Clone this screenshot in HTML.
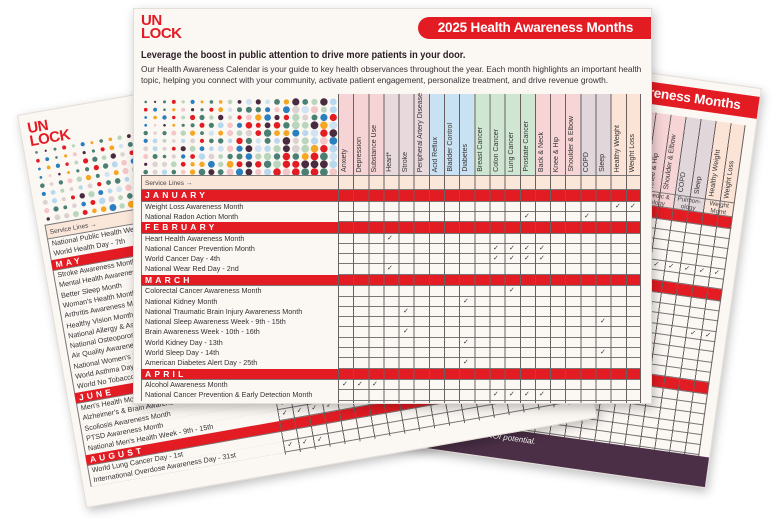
<!DOCTYPE html>
<html><head><meta charset="utf-8">
<style>
*{margin:0;padding:0;box-sizing:border-box}
body{width:776px;height:523px;background:#fff;position:relative;overflow:hidden;font-family:"Liberation Sans",sans-serif}
.pg{position:absolute;width:519px;height:396px;background:#fbf7f3;border:1px solid #e4ddd8;box-shadow:2px 4px 10px rgba(0,0,0,.25);transform-origin:0 0;overflow:hidden}
.logo{position:absolute;left:7px;top:5px;color:#e31b23;font-weight:bold;font-size:15px;line-height:13px;letter-spacing:-.5px}
.title{position:absolute;left:284px;top:8px;width:235px;height:22px;background:#e31b23;border-radius:11px 0 0 11px;color:#fff;font-weight:bold;font-size:13.5px;letter-spacing:-0.2px;line-height:22px;text-align:center;white-space:nowrap}
.h{position:absolute;left:7px;top:40px;font-weight:bold;font-size:10.5px;color:#2a1f24;white-space:nowrap;transform:scaleX(0.88);transform-origin:0 0}
.p{position:absolute;left:7px;top:55px;font-size:8.3px;line-height:11px;color:#3a3035;width:510px}
.dots{position:absolute}
.tbl{position:absolute;left:7px;width:500px}
.r{position:relative;height:10.3px;border-bottom:1px solid #777;font-size:7.2px;line-height:9.5px;color:#333;white-space:nowrap}
.r span{position:absolute;left:0;top:0;width:197px;height:10.3px;padding-left:3px;border-left:1px solid #777;background:#fbf7f3;overflow:hidden}
.r i{position:absolute;top:0;font-style:normal;font-size:7px}
.b{height:11.5px;background:#e31b23;color:#fff;font-weight:bold;font-size:8.5px;letter-spacing:3.2px;line-height:11.5px;padding-left:4px}
.sl{height:15px;background:#fbe6da;font-size:6.5px;line-height:15px;color:#444;padding-left:3px;border:1px solid #777;border-right:none}
.grid{position:absolute;background:repeating-linear-gradient(90deg,#6a6060 0 1px,transparent 1px 15.15px);border-right:1px solid #6a6060;pointer-events:none}
.col{position:absolute;top:0;width:15.15px;height:81px}
.col b{position:absolute;bottom:3px;left:3px;writing-mode:vertical-rl;transform:rotate(180deg);font-weight:normal;font-size:7px;color:#333;white-space:nowrap}
.grp{position:absolute;height:15px;font-size:6.3px;line-height:6.5px;color:#444;text-align:center;padding-top:1px;border-top:1px solid #777;border-bottom:1px solid #777}
.foot{position:absolute;left:0;top:372px;width:519px;height:40px;background:#4b2f46;color:#fff;font-size:8px;font-style:italic;padding:4px 0 0 150px;line-height:10px}
</style></head><body>

<!-- RIGHT PAGE -->
<div class="pg" style="left:248px;top:16px;height:404px;transform:rotate(8deg)">
 <div class="logo">UN<br>LOCK</div>
 <div class="title">2025 Health Awareness Months</div>
 <div style="position:absolute;left:204px;top:38px;width:303px;height:93px">
  <div class="col" style="left:0;height:78px;background:#f6d3d5"></div><div class="col" style="left:15.15px;height:78px;background:#f6d3d5"></div><div class="col" style="left:30.3px;height:78px;background:#f6d3d5"></div>
  <div class="col" style="left:45.45px;height:78px;background:#e8d9dc"></div><div class="col" style="left:60.6px;height:78px;background:#e8d9dc"></div><div class="col" style="left:75.75px;height:78px;background:#e8d9dc"></div>
  <div class="col" style="left:90.9px;height:78px;background:#c9e2f3"></div><div class="col" style="left:106px;height:78px;background:#c9e2f3"></div><div class="col" style="left:121.2px;height:78px;background:#c9e2f3"></div>
  <div class="col" style="left:136.35px;height:78px;background:#cfe6d3"></div><div class="col" style="left:151.5px;height:78px;background:#cfe6d3"></div><div class="col" style="left:166.65px;height:78px;background:#cfe6d3"></div><div class="col" style="left:181.8px;height:78px;background:#cfe6d3"></div>
  <div class="col" style="left:196.95px;height:78px;background:#f7d4d6"><b>Back &amp; Neck</b></div><div class="col" style="left:212.1px;height:78px;background:#f7d4d6"><b>Knee &amp; Hip</b></div><div class="col" style="left:227.25px;height:78px;background:#f7d4d6"><b>Shoulder &amp; Elbow</b></div>
  <div class="col" style="left:242.4px;height:78px;background:#e1d6da"><b>COPD</b></div><div class="col" style="left:257.55px;height:78px;background:#e1d6da"><b>Sleep</b></div>
  <div class="col" style="left:272.7px;height:78px;background:#fbe3d6"><b>Healthy Weight</b></div><div class="col" style="left:287.85px;height:78px;background:#fbe3d6"><b>Weight Loss</b></div>
  <div class="grp" style="left:196.95px;top:78px;width:45.45px;background:#f7d4d6">Orthopedic &amp;<br>Neurology</div>
  <div class="grp" style="left:242.4px;top:78px;width:30.3px;background:#e1d6da">Pulmon-<br>ology</div>
  <div class="grp" style="left:272.7px;top:78px;width:30.3px;background:#fbe3d6">Weight<br>Mgmt</div>
 </div>
 <div class="tbl" style="top:131px">
  <div class="r b">MAY</div>
  <div class="r"><span></span></div><div class="r"><span></span></div><div class="r"><span></span></div><div class="r"><span></span></div>
  <div class="r"><span></span><i style="left:413px">✓</i><i style="left:428px">✓</i><i style="left:443px">✓</i><i style="left:459px">✓</i><i style="left:474px">✓</i><i style="left:489px">✓</i></div>
  <div class="r"><span></span></div>
  <div class="r b">JUNE</div>
  <div class="r"><span></span></div>
  <div class="r"><span></span><i style="left:428px">✓</i></div>
  <div class="r"><span></span><i style="left:428px">✓</i></div>
  <div class="r"><span></span><i style="left:428px">✓</i><i style="left:474px">✓</i><i style="left:489px">✓</i></div>
  <div class="r"><span></span></div><div class="r"><span></span></div><div class="r"><span></span></div><div class="r"><span></span></div>
  <div class="r b">JULY</div>
  <div class="r"><span></span><i style="left:428px">✓</i></div>
  <div class="r"><span></span></div><div class="r"><span></span></div><div class="r"><span></span></div><div class="r"><span></span></div><div class="r"><span></span></div>
 </div>
 <div class="grid" style="left:204px;top:38px;width:303px;height:334px"></div>
 <div class="foot">Schedule a 15-minute demo to see your ROI potential.<br>unlockhealthnow.com/ham</div>
</div>

<!-- LEFT PAGE -->
<div class="pg" style="left:17px;top:115px;height:399px;transform:rotate(-10deg)">
 <div class="logo" style="top:8px">UN<br>LOCK</div>
 <svg class="dots" id="d2" style="left:7px;top:35px" width="197" height="76"></svg>
 <div class="tbl" style="top:112px">
  <div class="sl">Service Lines →</div>
  <div class="r"><span>National Public Health Week - 7th</span></div>
  <div class="r"><span>World Health Day - 7th</span></div>
  <div class="r b">MAY</div>
  <div class="r"><span>Stroke Awareness Month</span></div>
  <div class="r"><span>Mental Health Awareness Month</span></div>
  <div class="r"><span>Better Sleep Month</span></div>
  <div class="r"><span>Woman's Health Month</span></div>
  <div class="r"><span>Arthritis Awareness Month</span></div>
  <div class="r"><span>Healthy Vision Month</span></div>
  <div class="r"><span>National Allergy &amp; Asthma Awareness Month</span></div>
  <div class="r"><span>National Osteoporosis Awareness Month</span></div>
  <div class="r"><span>Air Quality Awareness Week</span></div>
  <div class="r"><span>National Women's Health Week</span></div>
  <div class="r"><span>World Asthma Day - 6th</span></div>
  <div class="r"><span>World No Tobacco Day - 31st</span></div>
  <div class="r b">JUNE</div>
  <div class="r"><span>Men's Health Month</span></div>
  <div class="r"><span>Alzheimer's &amp; Brain Awareness Month</span></div>
  <div class="r"><span>Scoliosis Awareness Month</span></div>
  <div class="r"><span>PTSD Awareness Month</span><i style="left:201px">✓</i><i style="left:216px">✓</i><i style="left:231px">✓</i><i style="left:246px">✓</i><i style="left:262px">✓</i><i style="left:277px">✓</i><i style="left:292px">✓</i></div>
  <div class="r"><span>National Men's Health Week - 9th - 15th</span><i style="left:201px">✓</i><i style="left:216px">✓</i><i style="left:231px">✓</i><i style="left:246px">✓</i><i style="left:383px">✓</i></div>
  <div class="r b">AUGUST</div>
  <div class="r"><span>World Lung Cancer Day - 1st</span></div>
  <div class="r"><span>International Overdose Awareness Day - 31st</span><i style="left:201px">✓</i><i style="left:216px">✓</i><i style="left:231px">✓</i></div>
 </div>
 <div class="grid" style="left:204px;top:112px;width:303px;height:268px"></div>
</div>

<!-- MAIN PAGE -->
<div class="pg" style="left:133px;top:8px">
 <div class="logo">UN<br>LOCK</div>
 <div class="title">2025 Health Awareness Months</div>
 <div class="h">Leverage the boost in public attention to drive more patients in your door.</div>
 <div class="p">Our Health Awareness Calendar is your guide to key health observances throughout the year. Each month highlights an important health topic, helping you connect with your community, activate patient engagement, personalize treatment, and drive revenue growth.</div>
 <svg class="dots" id="d1" style="left:7px;top:89px" width="197" height="78"></svg>
 <div style="position:absolute;left:204px;top:85px;width:303px;height:97px">
  <div class="col" style="left:0;background:#f6d3d5"><b>Anxiety</b></div><div class="col" style="left:15.15px;background:#f6d3d5"><b>Depression</b></div><div class="col" style="left:30.3px;background:#f6d3d5"><b>Substance Use</b></div>
  <div class="col" style="left:45.45px;background:#e8d9dc"><b>Heart*</b></div><div class="col" style="left:60.6px;background:#e8d9dc"><b>Stroke</b></div><div class="col" style="left:75.75px;background:#e8d9dc"><b>Peripheral Artery Disease</b></div>
  <div class="col" style="left:90.9px;background:#c9e2f3"><b>Acid Reflux</b></div><div class="col" style="left:106px;background:#c9e2f3"><b>Bladder Control</b></div><div class="col" style="left:121.2px;background:#c9e2f3"><b>Diabetes</b></div>
  <div class="col" style="left:136.35px;background:#cfe6d3"><b>Breast Cancer</b></div><div class="col" style="left:151.5px;background:#cfe6d3"><b>Colon Cancer</b></div><div class="col" style="left:166.65px;background:#cfe6d3"><b>Lung Cancer</b></div><div class="col" style="left:181.8px;background:#cfe6d3"><b>Prostate Cancer</b></div>
  <div class="col" style="left:196.95px;background:#f7d4d6"><b>Back &amp; Neck</b></div><div class="col" style="left:212.1px;background:#f7d4d6"><b>Knee &amp; Hip</b></div><div class="col" style="left:227.25px;background:#f7d4d6"><b>Shoulder &amp; Elbow</b></div>
  <div class="col" style="left:242.4px;background:#e1d6da"><b>COPD</b></div><div class="col" style="left:257.55px;background:#e1d6da"><b>Sleep</b></div>
  <div class="col" style="left:272.7px;background:#fbe3d6"><b>Healthy Weight</b></div><div class="col" style="left:287.85px;background:#fbe3d6"><b>Weight Loss</b></div>
  <div class="grp" style="left:0;top:81px;width:45.45px;background:#f6d3d5">Behavioral<br>Health</div>
  <div class="grp" style="left:45.45px;top:81px;width:45.45px;background:#e8d9dc;line-height:13px">Cardiovascular</div>
  <div class="grp" style="left:90.9px;top:81px;width:45.45px;background:#c9e2f3">Internal<br>Medicine</div>
  <div class="grp" style="left:136.35px;top:81px;width:60.6px;background:#cfe6d3;line-height:13px">Oncology</div>
  <div class="grp" style="left:196.95px;top:81px;width:45.45px;background:#f7d4d6">Orthopedic &amp;<br>Neurology</div>
  <div class="grp" style="left:242.4px;top:81px;width:30.3px;background:#e1d6da">Pulmon-<br>ology</div>
  <div class="grp" style="left:272.7px;top:81px;width:30.3px;background:#fbe3d6">Weight<br>Mgmt</div>
 </div>
 <div class="tbl" style="top:166px">
  <div class="sl">Service Lines →</div>
  <div class="r b">JANUARY</div>
  <div class="r"><span>Weight Loss Awareness Month</span><i style="left:474px">✓</i><i style="left:489px">✓</i></div>
  <div class="r"><span>National Radon Action Month</span><i style="left:383px">✓</i><i style="left:443px">✓</i></div>
  <div class="r b">FEBRUARY</div>
  <div class="r"><span>Heart Health Awareness Month</span><i style="left:246px">✓</i></div>
  <div class="r"><span>National Cancer Prevention Month</span><i style="left:352px">✓</i><i style="left:368px">✓</i><i style="left:383px">✓</i><i style="left:398px">✓</i></div>
  <div class="r"><span>World Cancer Day - 4th</span><i style="left:352px">✓</i><i style="left:368px">✓</i><i style="left:383px">✓</i><i style="left:398px">✓</i></div>
  <div class="r"><span>National Wear Red Day - 2nd</span><i style="left:246px">✓</i></div>
  <div class="r b">MARCH</div>
  <div class="r"><span>Colorectal Cancer Awareness Month</span><i style="left:368px">✓</i></div>
  <div class="r"><span>National Kidney Month</span><i style="left:322px">✓</i></div>
  <div class="r"><span>National Traumatic Brain Injury Awareness Month</span><i style="left:262px">✓</i></div>
  <div class="r"><span>National Sleep Awareness Week - 9th - 15th</span><i style="left:459px">✓</i></div>
  <div class="r"><span>Brain Awareness Week - 10th - 16th</span><i style="left:262px">✓</i></div>
  <div class="r"><span>World Kidney Day - 13th</span><i style="left:322px">✓</i></div>
  <div class="r"><span>World Sleep Day - 14th</span><i style="left:459px">✓</i></div>
  <div class="r"><span>American Diabetes Alert Day - 25th</span><i style="left:322px">✓</i></div>
  <div class="r b">APRIL</div>
  <div class="r"><span>Alcohol Awareness Month</span><i style="left:201px">✓</i><i style="left:216px">✓</i><i style="left:231px">✓</i></div>
  <div class="r"><span>National Cancer Prevention &amp; Early Detection Month</span><i style="left:352px">✓</i><i style="left:368px">✓</i><i style="left:383px">✓</i><i style="left:398px">✓</i></div>
 </div>
 <div class="grid" style="left:204px;top:85px;width:303px;height:309px"></div>
</div>

<script>
(function(){
 var cols=["#e31b23","#4a2a3f","#2a7fc1","#b8d8ef","#4a7f74","#b9d6bd","#f5a623","#f5c6c8","#ddd2d2","#cfe3f2"];
 function fill(id,nc,nr){
  var s=document.getElementById(id),w=+s.getAttribute("width"),h=+s.getAttribute("height"),out="";
  var dx=w/nc,dy=h/nr,seed=7;
  for(var r=0;r<nr;r++)for(var c=0;c<nc;c++){
   seed=(seed*9301+49297)%233280;var v=seed/233280;
   seed=(seed*9301+49297)%233280;var v2=seed/233280;
   var rad=0.7+(c/nc)*2.4+(r/nr)*1.1+v2*1.1;
   out+='<circle cx="'+(c*dx+dx/2).toFixed(1)+'" cy="'+(r*dy+dy/2).toFixed(1)+'" r="'+Math.min(rad,dy/2).toFixed(1)+'" fill="'+cols[Math.floor(v*cols.length)]+'"/>';
  }
  s.innerHTML=out;
 }
 fill("d1",21,10);fill("d2",21,9);
})();
</script>
</body></html>
